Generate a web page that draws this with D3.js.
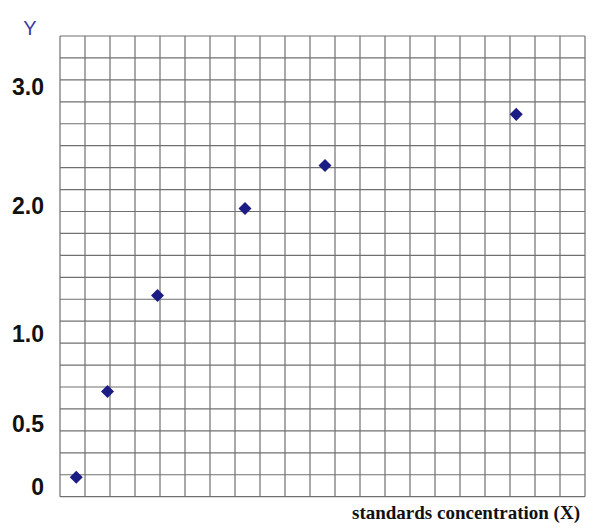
<!DOCTYPE html>
<html>
<head>
<meta charset="utf-8">
<script src="https://cdn.jsdelivr.net/npm/d3@7"></script>
<style>
    body { margin: 0; background: #fff; }
    svg { display: block; }
</style>
</head>
<body>
<div id="chart"></div>
<script>
    // Data
    const xValues = [0.65, 1.9, 3.9, 7.4, 10.6, 18.25]; // in grid columns
    const yValues = [0.08, 0.68, 1.3, 1.98, 2.34, 2.77];
    const yTickValues = [0, 0.5, 1, 2, 3];
    const yTickLabels = ["0", "0.5", "1.0", "2.0", "3.0"];
    const gridColumns = 21;
    const gridRows = 21;

    const width = 600;
    const height = 529;

    // Grid area
    const grid = { left: 60, right: 585, top: 36, bottom: 496.7 };

    const svg = d3.select("#chart")
        .append("svg")
        .attr("width", width)
        .attr("height", height);

    // Scales
    const xScale = d3.scaleLinear()
        .domain([0, gridColumns])
        .range([grid.left, grid.right]);

    const rowScale = d3.scaleLinear()
        .domain([0, gridRows])
        .range([grid.bottom, grid.top]);

    // the tick labels on the original are not evenly spaced, so piecewise scale
    const yScale = d3.scaleLinear()
        .domain(yTickValues)
        .range([487.5, 424, 334, 206, 87]);

    // Grid lines
    svg.append("g")
        .selectAll("line")
        .data(d3.range(gridColumns + 1))
        .enter()
        .append("line")
        .attr("x1", (d) => xScale(d))
        .attr("x2", (d) => xScale(d))
        .attr("y1", grid.top)
        .attr("y2", grid.bottom)
        .attr("stroke", "#707070")
        .attr("stroke-width", 1.2);

    svg.append("g")
        .selectAll("line")
        .data(d3.range(gridRows + 1))
        .enter()
        .append("line")
        .attr("x1", grid.left)
        .attr("x2", grid.right)
        .attr("y1", (d) => rowScale(d))
        .attr("y2", (d) => rowScale(d))
        .attr("stroke", "#707070")
        .attr("stroke-width", 1.2);

    // Y labels
    const yAxis = d3.axisLeft(yScale)
        .tickValues(yTickValues)
        .tickFormat((d, i) => yTickLabels[i])
        .tickSize(0)
        .tickPadding(0);

    const yAxisGroup = svg.append("g")
        .attr("transform", "translate(44,0)")
        .call(yAxis);
    yAxisGroup.select(".domain").remove();
    yAxisGroup.selectAll("text")
        .attr("font-family", "Liberation Sans, Arial, sans-serif")
        .attr("font-weight", "bold")
        .attr("font-size", 23)
        .attr("fill", "#111");

    // Axis titles
    svg.append("text")
        .attr("x", 30)
        .attr("y", 35)
        .attr("text-anchor", "middle")
        .attr("font-family", "Liberation Sans, Arial, sans-serif")
        .attr("font-size", 20)
        .attr("fill", "#3b3ba8")
        .text("Y");

    svg.append("text")
        .attr("x", 580)
        .attr("y", 519)
        .attr("text-anchor", "end")
        .attr("font-family", "Liberation Serif, Times New Roman, serif")
        .attr("font-weight", "bold")
        .attr("font-size", 19)
        .attr("fill", "#111")
        .text("standards concentration (X)");

    // Points
    const points = xValues.map((x, i) => ({ x: x, y: yValues[i] }));
    const diamond = d3.symbol().type(d3.symbolSquare).size(85);

    svg.append("g")
        .selectAll("path")
        .data(points)
        .enter()
        .append("path")
        .attr("d", diamond)
        .attr("transform", (d) => `translate(${xScale(d.x)},${yScale(d.y)}) rotate(45)`)
        .attr("fill", "#1c1c85");
</script>
</body>
</html>
